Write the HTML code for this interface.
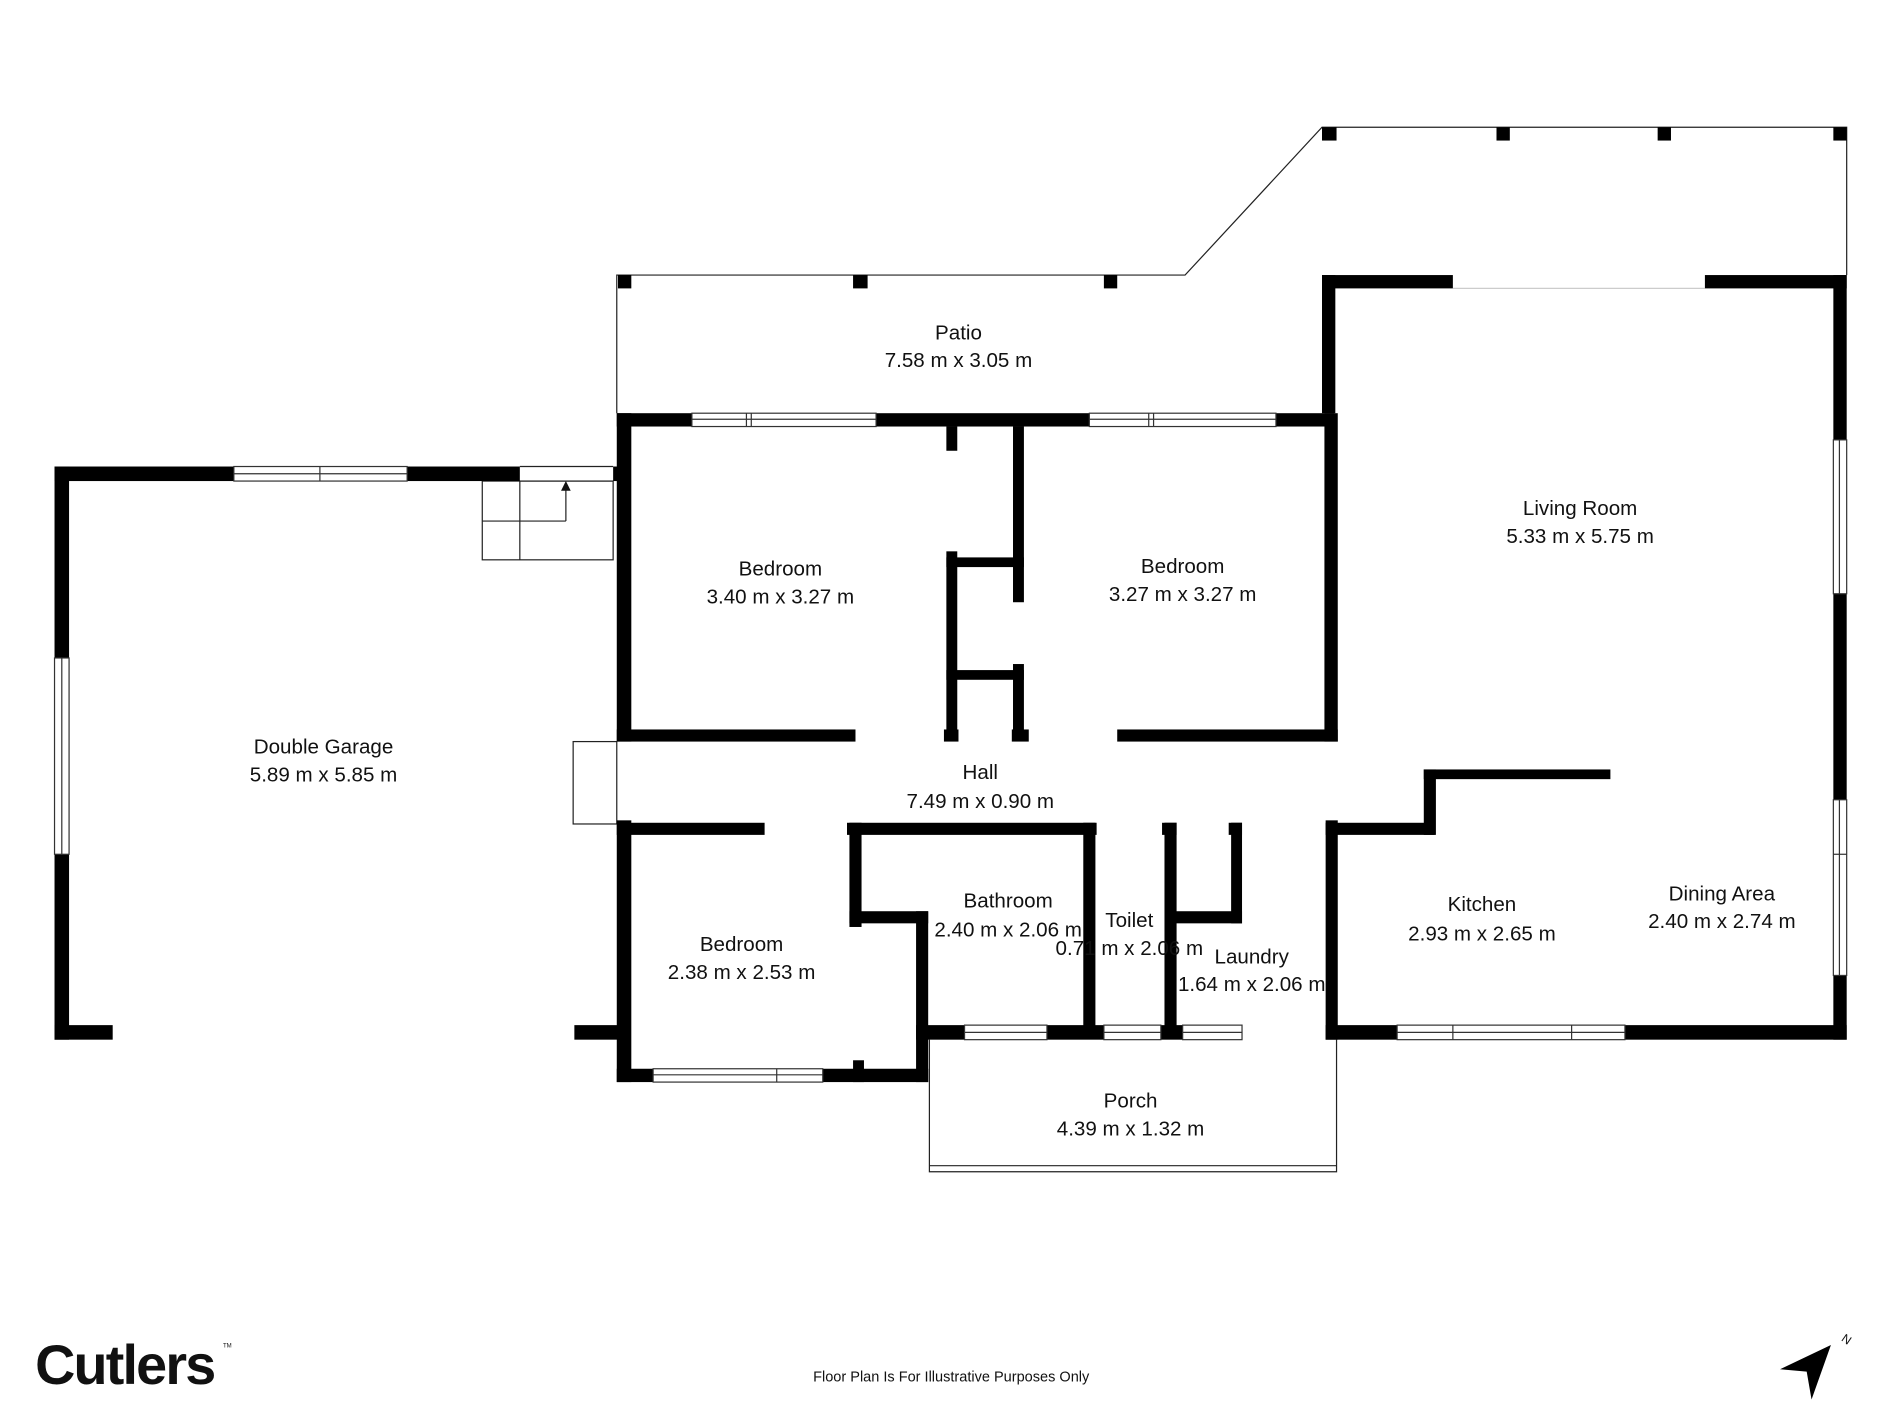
<!DOCTYPE html>
<html><head><meta charset="utf-8"><style>
html,body{margin:0;padding:0;background:#fff;}
svg{display:block}
text{font-family:"Liberation Sans",sans-serif;fill:#111;}
</style></head><body>
<svg width="1900" height="1425" viewBox="0 0 1566 1176" xmlns="http://www.w3.org/2000/svg">
<g fill="none" stroke="#222" stroke-width="1">
<polyline points="508,341 508,227 977,227 1090,105 1523,105 1523,227"/>
<rect x="397" y="397" width="108" height="65"/>
<line x1="428" y1="397" x2="428" y2="462"/>
<line x1="397" y1="430" x2="466" y2="430"/>
<line x1="466" y1="430" x2="466" y2="400"/>
<line x1="428" y1="385" x2="505" y2="385"/><line x1="428" y1="397" x2="505" y2="397"/>
<rect x="472" y="612" width="36" height="68"/>
<polyline points="766,858 766,967 1102,967 1102,858"/>
<line x1="766" y1="962" x2="1102" y2="962"/>
<line x1="1198" y1="238" x2="1406" y2="238" stroke="#ccc"/>
</g>
<polygon points="466,397 462,405 470,405" fill="#111"/>
<g fill="#000">
<rect x="509" y="227" width="11" height="11"/><rect x="703" y="227" width="12" height="11"/><rect x="910" y="227" width="11" height="11"/>
<rect x="1090" y="105" width="12" height="11"/><rect x="1234" y="105" width="11" height="11"/><rect x="1367" y="105" width="11" height="11"/><rect x="1512" y="105" width="11" height="11"/>
<rect x="44" y="385" width="12" height="158"/><rect x="44" y="705" width="12" height="153"/>
<rect x="44" y="385" width="148" height="12"/><rect x="335" y="385" width="93" height="12"/>
<rect x="44" y="846" width="48" height="12"/><rect x="473" y="846" width="40" height="12"/>
<rect x="505" y="385" width="5" height="12"/>
<rect x="508" y="341" width="12" height="271"/><rect x="508" y="677" width="12" height="216"/>
<rect x="508" y="341" width="62" height="11"/><rect x="722" y="341" width="176" height="11"/><rect x="1052" y="341" width="48" height="11"/>
<rect x="1090" y="227" width="108" height="11"/><rect x="1406" y="227" width="117" height="11"/>
<rect x="1090" y="227" width="11" height="114"/>
<rect x="1092" y="341" width="11" height="271"/>
<rect x="1512" y="227" width="11" height="136"/><rect x="1512" y="490" width="11" height="170"/><rect x="1512" y="805" width="11" height="53"/>
<rect x="508" y="602" width="197" height="10"/><rect x="778" y="602" width="12" height="10"/><rect x="834" y="602" width="14" height="10"/><rect x="921" y="602" width="182" height="10"/>
<rect x="780" y="352" width="9" height="20"/><rect x="780" y="455" width="9" height="150"/>
<rect x="835" y="352" width="9" height="145"/><rect x="835" y="548" width="9" height="57"/>
<rect x="780" y="460" width="64" height="8"/><rect x="780" y="553" width="64" height="8"/>
<rect x="508" y="679" width="122" height="10"/><rect x="698" y="679" width="206" height="10"/>
<rect x="958" y="679" width="12" height="10"/><rect x="1013" y="679" width="11" height="10"/>
<rect x="1093" y="677" width="10" height="181"/>
<rect x="1093" y="679" width="90" height="10"/><rect x="1174" y="635" width="10" height="54"/><rect x="1174" y="635" width="154" height="8"/>
<rect x="700" y="679" width="10" height="86"/><rect x="700" y="752" width="65" height="10"/>
<rect x="703" y="875" width="9" height="18"/>
<rect x="508" y="882" width="30" height="11"/><rect x="678" y="882" width="87" height="11"/>
<rect x="755" y="752" width="10" height="141"/>
<rect x="893" y="679" width="10" height="171"/><rect x="960" y="679" width="10" height="171"/>
<rect x="1015" y="679" width="9" height="83"/><rect x="968" y="752" width="56" height="10"/>
<rect x="755" y="846" width="40" height="12"/><rect x="863" y="846" width="47" height="12"/><rect x="957" y="846" width="18" height="12"/>
<rect x="1093" y="846" width="59" height="12"/><rect x="1340" y="846" width="183" height="12"/>
</g>
<g fill="#fff" stroke="#333" stroke-width="1">
<rect x="192" y="385" width="143" height="12"/><line x1="192" y1="391" x2="335" y2="391"/><line x1="263" y1="385" x2="263" y2="397"/>
<rect x="44" y="543" width="12" height="162"/><line x1="50" y1="543" x2="50" y2="705"/>
<rect x="570" y="341" width="152" height="11"/><line x1="570" y1="346" x2="722" y2="346"/><line x1="615" y1="341" x2="615" y2="352"/><line x1="619" y1="341" x2="619" y2="352"/>
<rect x="898" y="341" width="154" height="11"/><line x1="898" y1="346" x2="1052" y2="346"/><line x1="947" y1="341" x2="947" y2="352"/><line x1="951" y1="341" x2="951" y2="352"/>
<rect x="1512" y="363" width="11" height="127"/><line x1="1517" y1="363" x2="1517" y2="490"/>
<rect x="1512" y="660" width="11" height="145"/><line x1="1517" y1="660" x2="1517" y2="805"/><line x1="1512" y1="705" x2="1523" y2="705"/>
<rect x="538" y="882" width="140" height="11"/><line x1="538" y1="887" x2="678" y2="887"/><line x1="640" y1="882" x2="640" y2="893"/>
<rect x="795" y="846" width="68" height="12"/><line x1="795" y1="852" x2="863" y2="852"/>
<rect x="910" y="846" width="47" height="12"/><line x1="910" y1="852" x2="957" y2="852"/>
<rect x="975" y="846" width="49" height="12"/><line x1="975" y1="852" x2="1024" y2="852"/>
<rect x="1152" y="846" width="188" height="12"/><line x1="1152" y1="852" x2="1340" y2="852"/><line x1="1198" y1="846" x2="1198" y2="858"/><line x1="1296" y1="846" x2="1296" y2="858"/>
</g>
<g font-size="17" text-anchor="middle">
<text x="790" y="280">Patio</text><text x="790" y="303">7.58 m x 3.05 m</text>
<text x="266" y="622">Double Garage</text><text x="266" y="645">5.89 m x 5.85 m</text>
<text x="643" y="475">Bedroom</text><text x="643" y="498">3.40 m x 3.27 m</text>
<text x="975" y="473">Bedroom</text><text x="975" y="496">3.27 m x 3.27 m</text>
<text x="1303" y="425">Living Room</text><text x="1303" y="448">5.33 m x 5.75 m</text>
<text x="808" y="643">Hall</text><text x="808" y="667">7.49 m x 0.90 m</text>
<text x="611" y="785">Bedroom</text><text x="611" y="808">2.38 m x 2.53 m</text>
<text x="831" y="749">Bathroom</text><text x="831" y="773">2.40 m x 2.06 m</text>
<text x="931" y="765">Toilet</text><text x="931" y="788">0.71 m x 2.06 m</text>
<text x="1032" y="795">Laundry</text><text x="1032" y="818">1.64 m x 2.06 m</text>
<text x="1222" y="752">Kitchen</text><text x="1222" y="776">2.93 m x 2.65 m</text>
<text x="1420" y="743">Dining Area</text><text x="1420" y="766">2.40 m x 2.74 m</text>
<text x="932" y="914">Porch</text><text x="932" y="937">4.39 m x 1.32 m</text>
</g>
<text x="28" y="1142" font-size="46" font-weight="bold" letter-spacing="-1.5">Cutlers</text>
<text x="183" y="1112" font-size="5">TM</text>
<text x="784" y="1140" font-size="12" text-anchor="middle">Floor Plan Is For Illustrative Purposes Only</text>
<polygon points="1468,1130 1510,1110 1494,1155 1490,1132" fill="#000"/>
<text x="1518" y="1106" font-size="10" transform="rotate(35 1518 1106)">N</text>
</svg>
</body></html>
